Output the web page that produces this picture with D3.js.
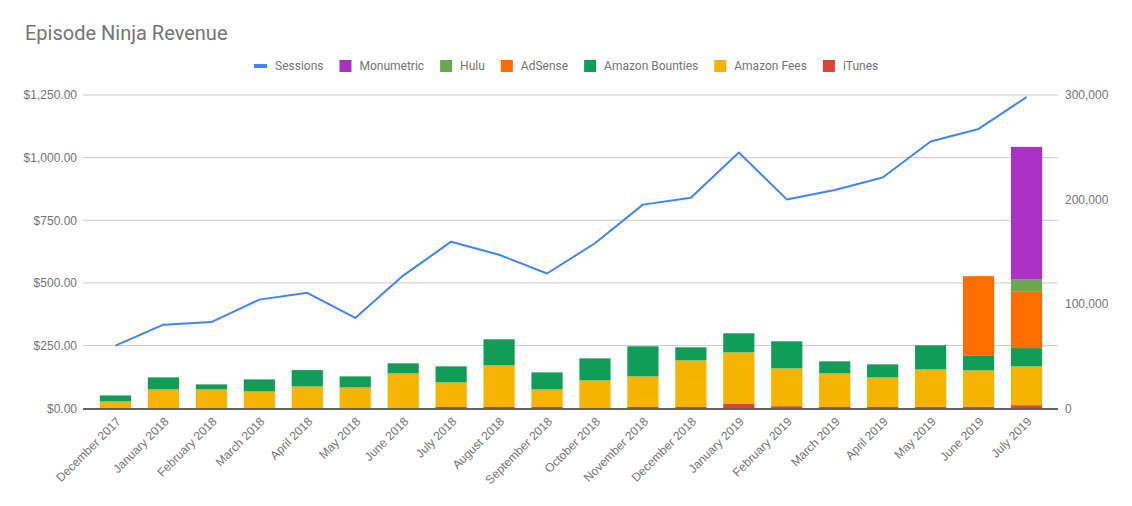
<!DOCTYPE html>
<html>
<head>
<meta charset="utf-8">
<script src="https://cdn.jsdelivr.net/npm/d3@7"></script>
<style>
  body { margin: 0; background: #fff; }
  svg { font-family: Roboto, "Noto Sans", sans-serif; }
</style>
</head>
<body>
<svg id="chart" width="1132" height="506"></svg>
<script>
const months = ["December 2017", "January 2018", "February 2018", "March 2018", "April 2018",
  "May 2018", "June 2018", "July 2018", "August 2018", "September 2018", "October 2018",
  "November 2018", "December 2018", "January 2019", "February 2019", "March 2019",
  "April 2019", "May 2019", "June 2019", "July 2019"];

// revenue in dollars, stacked bottom to top
const itunes         = [0, 0, 0, 0, 0, 0, 0, 5, 5, 5, 1, 5, 5, 19, 8, 5, 5, 6, 6, 12];
const amazonFees     = [27, 75, 75, 67, 87, 83, 139, 98, 166, 70, 110, 122, 186, 204, 151, 134, 118, 149, 145, 155];
const amazonBounties = [24, 48, 20, 48, 65, 44, 40, 64, 104, 68, 88, 120, 52, 76, 108, 48, 52, 96, 60, 73];
const adsense        = [0, 0, 0, 0, 0, 0, 0, 0, 0, 0, 0, 0, 0, 0, 0, 0, 0, 0, 316, 227];
const hulu           = [0, 0, 0, 0, 0, 0, 0, 0, 0, 0, 0, 0, 0, 0, 0, 0, 0, 0, 0, 48];
const monumetric     = [0, 0, 0, 0, 0, 0, 0, 0, 0, 0, 0, 0, 0, 0, 0, 0, 0, 0, 0, 528];

// sessions on right axis
const sessions = [60000, 80000, 82500, 104000, 110500, 86500, 127000, 159500, 147000, 129000,
  158000, 195000, 201500, 245000, 200000, 209000, 221000, 255500, 267500, 298000];

const leftTicks = [0, 250, 500, 750, 1000, 1250];
const rightTicks = [0, 100000, 200000, 300000];

const series = [
  { key: "iTunes", values: itunes, color: "#db4437" },
  { key: "Amazon Fees", values: amazonFees, color: "#f4b400" },
  { key: "Amazon Bounties", values: amazonBounties, color: "#0f9d58" },
  { key: "AdSense", values: adsense, color: "#ff6d01" },
  { key: "Hulu", values: hulu, color: "#6aa84f" },
  { key: "Monumetric", values: monumetric, color: "#ab30c4" }
];
const sessionsColor = "#4285f4";
const textColor = "#757575";

const svg = d3.select("#chart");

const gridLeft = 83, gridRight = 1058;
const yTop = 95, yBottom = 408.2;

const x = d3.scaleBand().domain(months).range([91.5, 1050.5]).paddingInner(0.35).paddingOuter(0.175);
const y = d3.scaleLinear().domain([0, 1250]).range([yBottom, yTop]);
const y2 = d3.scaleLinear().domain([0, 300000]).range([yBottom, yTop]);

// title
svg.append("text")
  .attr("x", 25).attr("y", 40)
  .attr("font-size", 20)
  .attr("fill", textColor)
  .text("Episode Ninja Revenue");

// gridlines
svg.append("g").selectAll("line")
  .data(leftTicks.filter(d => d > 0))
  .join("line")
  .attr("x1", gridLeft).attr("x2", gridRight)
  .attr("y1", d => y(d)).attr("y2", d => y(d))
  .attr("stroke", "#cccccc").attr("stroke-width", 1);

// left axis
const fmtMoney = d3.format("$,.2f");
const leftAxis = svg.append("g")
  .attr("transform", `translate(${gridLeft - 6},0)`)
  .call(d3.axisLeft(y).tickValues(leftTicks).tickFormat(fmtMoney).tickSize(0).tickPadding(0));
leftAxis.select(".domain").remove();
leftAxis.selectAll("text").attr("font-size", 12).attr("fill", textColor).attr("font-family", null);

// right axis
const rightAxis = svg.append("g")
  .attr("transform", `translate(${gridRight + 7},0)`)
  .call(d3.axisRight(y2).tickValues(rightTicks).tickFormat(d3.format(",")).tickSize(0).tickPadding(0));
rightAxis.select(".domain").remove();
rightAxis.selectAll("text").attr("font-size", 12).attr("fill", textColor).attr("font-family", null);

// stacked bars
const rows = months.map((m, i) => {
  const r = { month: m };
  series.forEach(s => { r[s.key] = s.values[i]; });
  return r;
});
const stacked = d3.stack().keys(series.map(s => s.key))(rows);

svg.append("g").selectAll("g")
  .data(stacked)
  .join("g")
  .attr("fill", (d, i) => series[i].color)
  .selectAll("rect")
  .data(d => d)
  .join("rect")
  .attr("x", d => x(d.data.month))
  .attr("width", x.bandwidth())
  .attr("y", d => y(d[1]))
  .attr("height", d => y(d[0]) - y(d[1]));

// baseline, sits just under the bars
svg.append("line")
  .attr("x1", gridLeft).attr("x2", gridRight)
  .attr("y1", yBottom + 0.75).attr("y2", yBottom + 0.75)
  .attr("stroke", "#333333").attr("stroke-width", 1.5);

// sessions line
const line = d3.line()
  .x((d, i) => x(months[i]) + x.bandwidth() / 2)
  .y(d => y2(d));
svg.append("path")
  .datum(sessions)
  .attr("fill", "none")
  .attr("stroke", sessionsColor)
  .attr("stroke-width", 2)
  .attr("stroke-linejoin", "round")
  .attr("d", line);

// x labels
const xAxis = svg.append("g")
  .attr("transform", `translate(0,${yBottom})`)
  .call(d3.axisBottom(x).tickSize(0).tickPadding(0));
xAxis.select(".domain").remove();
xAxis.selectAll("text")
  .attr("font-size", 12)
  .attr("fill", textColor)
  .attr("font-family", null)
  .attr("text-anchor", "end")
  .attr("dy", null)
  .attr("y", 0)
  .attr("transform", "translate(6,14) rotate(-45)");

// legend
const legendItems = [{ key: "Sessions", color: sessionsColor, line: true }]
  .concat(series.slice().reverse().map(s => ({ key: s.key, color: s.color })));
const legend = svg.append("g").attr("font-size", 12);
let lx = 254;
legendItems.forEach(item => {
  const g = legend.append("g").attr("transform", `translate(${lx},66)`);
  if (item.line) {
    g.append("rect").attr("x", 0).attr("y", -2).attr("width", 13).attr("height", 4).attr("fill", item.color);
  } else {
    g.append("rect").attr("x", 0).attr("y", -6).attr("width", 12).attr("height", 12).attr("fill", item.color);
  }
  const t = g.append("text")
    .attr("x", item.line ? 21 : 20).attr("y", 0).attr("dy", "0.35em")
    .attr("fill", textColor)
    .text(item.key);
  const w = t.node().getComputedTextLength();
  lx += (item.line ? 21 : 20) + w + 16;
});
</script>
</body>
</html>
